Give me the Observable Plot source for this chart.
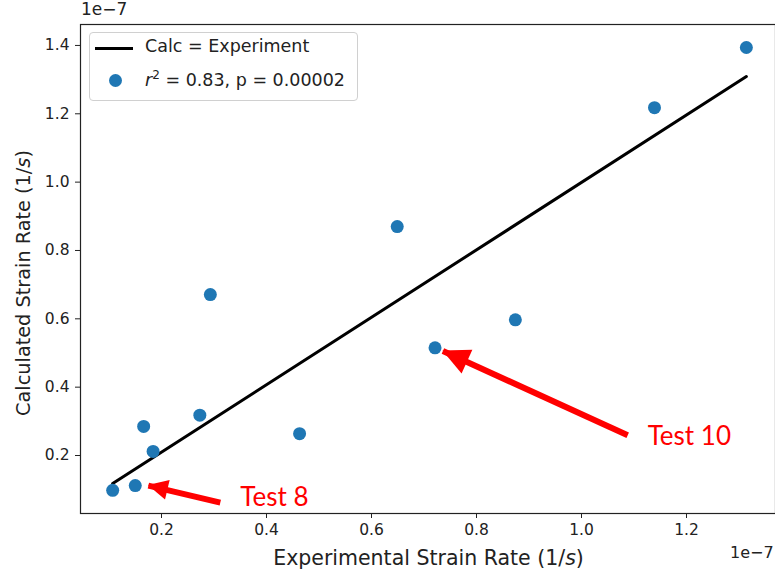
<!DOCTYPE html>
<html>
<head>
<meta charset="utf-8">
<script src="https://cdn.jsdelivr.net/npm/d3@7"></script>
<script src="https://cdn.jsdelivr.net/npm/@observablehq/plot@0.6"></script>
<style>
  html, body { margin: 0; padding: 0; background: #fff; }
  #wrap { position: relative; width: 775px; height: 575px; overflow: hidden; font-family: "DejaVu Sans", sans-serif; }
  .offset { position: absolute; font-size: 17px; color: #222; white-space: nowrap; }
  .legend { position: absolute; left: 89px; top: 32px; width: 267px; height: 67px; border: 1px solid #d0d0d0; border-radius: 4px; background: rgba(255,255,255,0.85); font-size: 17.5px; color: #222; }
  .legend .row { position: absolute; left: 0; white-space: nowrap; }
</style>
</head>
<body>
<div id="wrap"></div>
<script>
// Values in units of 1e-7 (1/s)
const experimental = [0.107, 0.150, 0.166, 0.184, 0.273, 0.293, 0.463, 0.649, 0.721, 0.874, 1.139, 1.314];
const calculated   = [0.098, 0.112, 0.285, 0.212, 0.318, 0.671, 0.264, 0.870, 0.515, 0.597, 1.218, 1.394];
const fitX = [0.107, 1.314];
const fitY = [0.118, 1.309];
const xTicks = [0.2, 0.4, 0.6, 0.8, 1.0, 1.2];
const yTicks = [0.2, 0.4, 0.6, 0.8, 1.0, 1.2, 1.4];
const annLabels = ["Test 8", "Test 10"];
const annTextX = [0.350, 1.126];
const annTextY = [0.0756, 0.254];
const arrowFromX = [0.312, 1.088];
const arrowFromY = [0.062, 0.259];
const arrowToX = [0.175, 0.736];
const arrowToY = [0.112, 0.506];
const headLen = [20, 27];
const headHalfWidth = [10, 13];

const points = experimental.map((x, i) => ({x, y: calculated[i]}));
const fit = fitX.map((x, i) => ({x, y: fitY[i]}));
const arrows = annLabels.map((l, i) => ({x1: arrowFromX[i], y1: arrowFromY[i], x2: arrowToX[i], y2: arrowToY[i], L: headLen[i], W: headHalfWidth[i]}));
const labels = annLabels.map((l, i) => ({label: l, x: annTextX[i], y: annTextY[i]}));

const chart = Plot.plot({
  width: 775,
  height: 575,
  marginLeft: 80,
  marginRight: 0,
  marginTop: 24,
  marginBottom: 62,
  style: {fontFamily: "DejaVu Sans, sans-serif", fontSize: "15.5px", color: "#222", background: "#fff"},
  x: {domain: [0.0457, 1.3695], label: null},
  y: {domain: [0.0303, 1.4613], label: null},
  marks: [
    Plot.axisX({ticks: xTicks, tickFormat: d3.format(".1f"), tickSize: 5, tickPadding: 5, fontSize: 15.5, label: null, stroke: "#222"}),
    Plot.axisY({ticks: yTicks, tickFormat: d3.format(".1f"), tickSize: 5, tickPadding: 6, fontSize: 15.5, label: null, stroke: "#222"}),
    Plot.line(fit, {x: "x", y: "y", stroke: "black", strokeWidth: 3}),
    Plot.dot(points, {x: "x", y: "y", r: 6.5, fill: "#1f77b4", stroke: "none"}),
    Plot.link(arrows, {x1: "x1", y1: "y1", x2: "x2", y2: "y2", stroke: "#ff0000", strokeWidth: 6, insetEnd: 15}),
    Plot.text(labels, {x: "x", y: "y", text: "label", fill: "#ff0000", fontSize: 26, fontFamily: "Lato, Open Sans, sans-serif", textAnchor: "start"}),
    Plot.frame({stroke: "#222", strokeWidth: 1.2})
  ]
});

// filled arrow heads, positioned through the chart's own scales
const sx = chart.scale("x"), sy = chart.scale("y");
const svgEl = d3.select(chart);
for (const a of arrows) {
  const x1 = sx.apply(a.x1), y1 = sy.apply(a.y1), x2 = sx.apply(a.x2), y2 = sy.apply(a.y2);
  const dx = x2 - x1, dy = y2 - y1, len = Math.hypot(dx, dy);
  const ux = dx / len, uy = dy / len, px = -uy, py = ux;
  const bx = x2 - ux * a.L, by = y2 - uy * a.L;
  svgEl.append("polygon")
    .attr("points", [[x2, y2], [bx + px * a.W, by + py * a.W], [bx - px * a.W, by - py * a.W]].map(p => p.join(",")).join(" "))
    .attr("fill", "#ff0000");
}

const wrap = document.getElementById("wrap");
wrap.appendChild(chart);

function addDiv(cls, html, style) {
  const d = document.createElement("div");
  d.className = cls;
  d.innerHTML = html;
  Object.assign(d.style, style);
  wrap.appendChild(d);
  return d;
}
// offset texts
addDiv("offset", "1e\u22127", {left: "81px", top: "-1px"});
addDiv("offset", "1e\u22127", {left: "730px", top: "543px", fontSize: "16px"});
// axis labels
addDiv("offset", "Experimental Strain Rate (1/<i>s</i>)", {left: "0", width: "857px", textAlign: "center", top: "546px", fontSize: "20.5px"});
const yl = addDiv("offset", "Calculated Strain Rate (1/<i>s</i>)", {left: "23px", top: "283px", fontSize: "19.3px"});
yl.style.transform = "translate(-50%, -50%) rotate(-90deg)";

// legend
const lg = addDiv("legend", "", {});
lg.innerHTML = `
  <div class="row" style="left:5px; top:14px; width:38px; height:3px; background:#000;"></div>
  <div class="row" style="left:55px; top:3px;">Calc = Experiment</div>
  <div class="row" style="left:19px; top:41px; width:13px; height:13px; border-radius:50%; background:#1f77b4;"></div>
  <div class="row" style="left:55px; top:35px;"><i>r</i><sup style="font-size:12px;">2</sup> = 0.83, p = 0.00002</div>
`;
</script>
</body>
</html>
